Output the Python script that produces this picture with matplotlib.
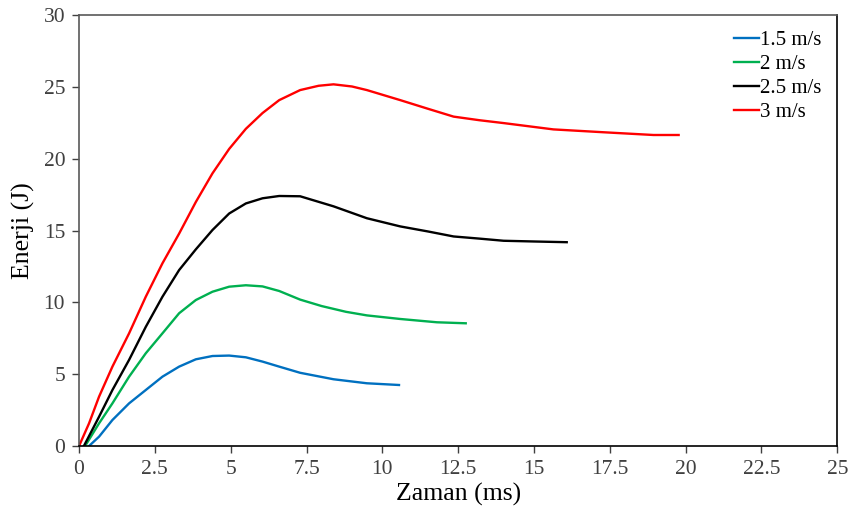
import matplotlib.pyplot as plt

plt.rcParams['font.family'] = ['Liberation Serif', 'DejaVu Serif']

# energy vs time
t_15 = [0.33, 0.66, 1.1, 1.65, 2.2, 2.75, 3.3, 3.85, 4.4, 4.95, 5.5, 6.05, 6.6, 7.29, 8.39, 9.49, 10.55]
e_15 = [0.0, 0.65, 1.81, 2.97, 3.9, 4.83, 5.53, 6.04, 6.27, 6.3, 6.18, 5.88, 5.53, 5.1, 4.65, 4.37, 4.25]

t_2 = [0.2, 0.66, 1.1, 1.65, 2.2, 2.75, 3.3, 3.85, 4.4, 4.95, 5.5, 6.05, 6.6, 7.29, 8.0, 8.8, 9.49, 10.59, 11.8, 12.75]
e_2 = [0.0, 1.58, 2.97, 4.83, 6.46, 7.85, 9.25, 10.17, 10.75, 11.1, 11.2, 11.12, 10.8, 10.2, 9.75, 9.35, 9.1, 8.85, 8.62, 8.55]

t_25 = [0.16, 0.66, 1.1, 1.65, 2.2, 2.75, 3.3, 3.85, 4.4, 4.95, 5.5, 6.05, 6.6, 7.29, 8.39, 9.49, 10.59,
        11.5, 12.35, 13.2, 14.0, 15.0, 16.08]
e_25 = [0.0, 2.04, 3.9, 6.0, 8.3, 10.4, 12.26, 13.7, 15.05, 16.2, 16.9, 17.26, 17.42, 17.4, 16.7, 15.87, 15.3,
        14.95, 14.6, 14.45, 14.3, 14.25, 14.2]

t_3 = [0.0, 0.33, 0.66, 1.1, 1.65, 2.2, 2.75, 3.3, 3.85, 4.4, 4.95, 5.5, 6.05, 6.6, 7.29, 7.9, 8.39, 9.0, 9.49, 10.59,
       11.5, 12.35, 13.2, 14.0, 15.64, 17.3, 18.94, 19.77]
e_3 = [0.0, 1.58, 3.44, 5.53, 7.85, 10.4, 12.73, 14.8, 17.0, 19.0, 20.7, 22.1, 23.2, 24.1, 24.8, 25.1, 25.2, 25.05, 24.8, 24.1,
       23.5, 22.95, 22.7, 22.5, 22.06, 21.86, 21.67, 21.67]

xticks = [0, 2.5, 5, 7.5, 10, 12.5, 15, 17.5, 20, 22.5, 25]
xlabels = ['0', '2.5', '5', '7.5', '10', '12.5', '15', '17.5', '20', '22.5', '25']
yticks = [0, 5, 10, 15, 20, 25, 30]

fig = plt.figure(figsize=(8.5, 5.15), dpi=100)
ax = fig.add_axes([0.093, 0.134, 0.892, 0.836])

ax.plot(t_15, e_15, color='#0070C0', lw=1.7, label='1.5 m/s')
ax.plot(t_2, e_2, color='#00B050', lw=1.7, label='2 m/s')
ax.plot(t_25, e_25, color='black', lw=1.7, label='2.5 m/s')
ax.plot(t_3, e_3, color='#FF0000', lw=1.7, label='3 m/s')

ax.set_xlim(0, 25)
ax.set_ylim(0, 30)
ax.set_xticks(xticks)
ax.set_xticklabels(xlabels)
ax.set_yticks(yticks)
ax.tick_params(labelsize=15.5, direction='out', length=5, width=1, colors='#404040')
ax.tick_params(axis='x', pad=5)
ax.tick_params(axis='y', pad=5)

ax.set_xlabel('Zaman (ms)', fontsize=18.5, labelpad=3)
ax.set_ylabel('Enerji (J)', fontsize=18.5, labelpad=6)

for s in ['left', 'top']:
    ax.spines[s].set_color('#595959')
for s in ['bottom', 'right']:
    ax.spines[s].set_color('black')
for s in ax.spines.values():
    s.set_linewidth(1.2)

ax.legend(loc='upper right', bbox_to_anchor=(0.99, 0.985), frameon=False, fontsize=15,
          handlelength=1.2, handletextpad=0.05, labelspacing=0.22, borderaxespad=0)

fig.savefig('out.png', dpi=100)
